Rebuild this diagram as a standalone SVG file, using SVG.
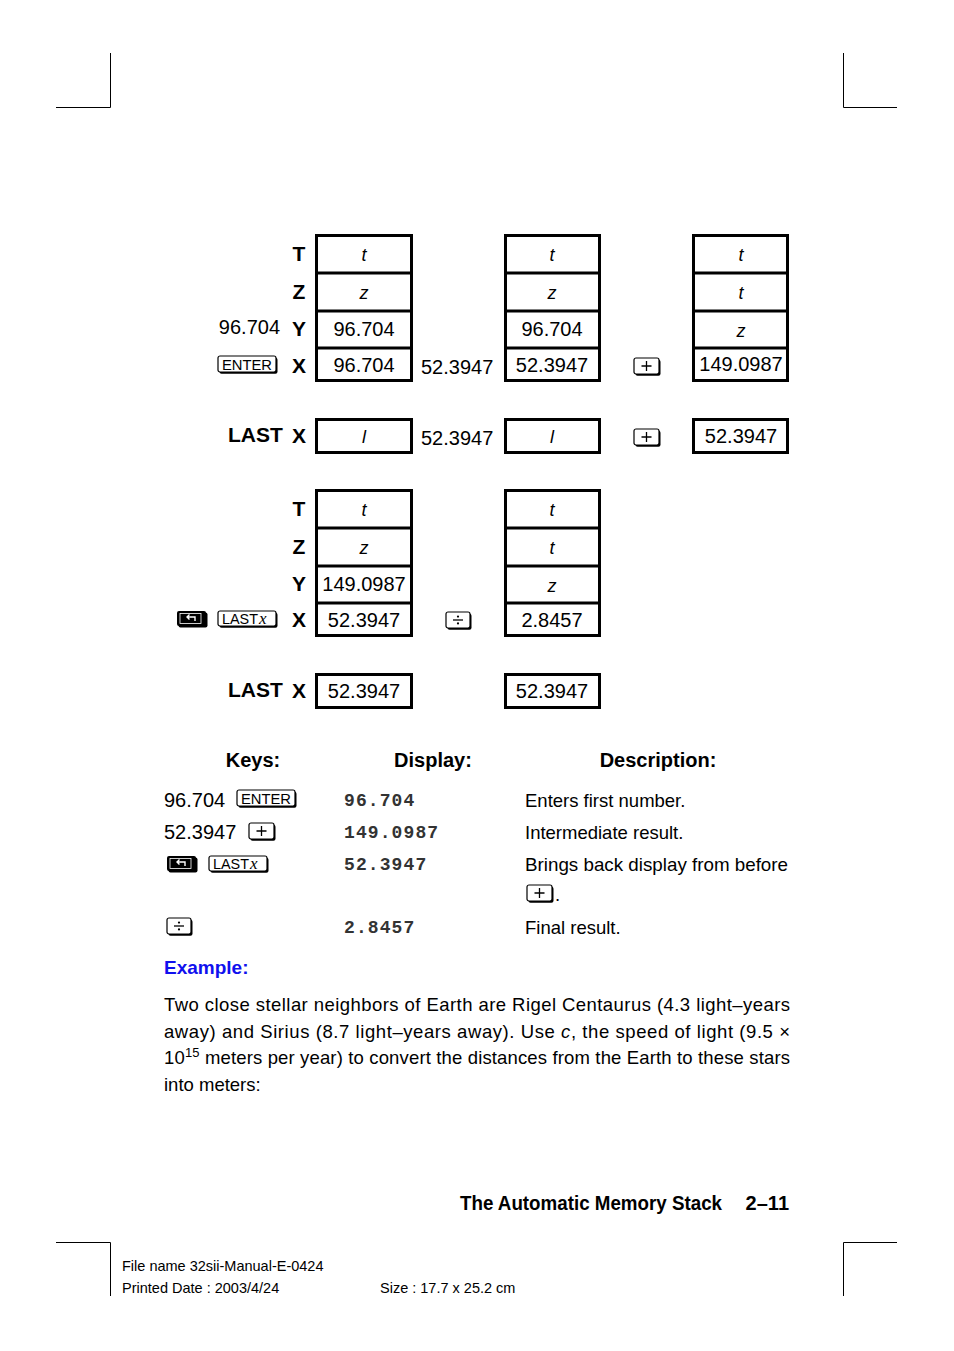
<svg xmlns="http://www.w3.org/2000/svg" width="954" height="1351" viewBox="0 0 954 1351">
<style>
.crop{stroke:#000;stroke-width:1;fill:none}
.box{fill:#fff;stroke:#000;stroke-width:3}
.div{stroke:#000;stroke-width:3}
.t{font-family:"Liberation Sans",Arial,sans-serif;font-size:20px;fill:#000}
.it{font-family:"Liberation Sans",Arial,sans-serif;font-size:18px;font-style:italic;fill:#000}
.lbl{font-family:"Liberation Sans",Arial,sans-serif;font-size:21px;font-weight:bold;fill:#000}
.hd{font-family:"Liberation Sans",Arial,sans-serif;font-size:20px;font-weight:bold;fill:#000}
.lcd{font-family:"Liberation Mono","DejaVu Sans Mono",monospace;font-size:18px;font-weight:bold;fill:#333;letter-spacing:1.1px}
.body{font-family:"Liberation Sans",Arial,sans-serif;font-size:18.5px;fill:#000}
.key{fill:#fff;stroke:#000;stroke-width:1.2}
.ksh{fill:#000}
.kt{font-family:"Liberation Sans",Arial,sans-serif;font-size:15px;fill:#000}
.small{font-family:"Liberation Sans",Arial,sans-serif;font-size:14.5px;fill:#000}
</style>
<defs>
<g id="plus"><rect class="ksh" x="1.5" y="1.8" width="25" height="16" rx="2"/><rect class="key" x="0" y="0" width="25" height="16" rx="2"/><path d="M12.5 3v10M7.5 8h10" stroke="#000" stroke-width="1.3"/></g>
<g id="divk"><rect class="ksh" x="1.5" y="1.8" width="24" height="16" rx="2"/><rect class="key" x="0" y="0" width="24" height="16" rx="2"/><path d="M7 8h10" stroke="#000" stroke-width="1.3"/><circle cx="12" cy="4.6" r="1.1" fill="#000"/><circle cx="12" cy="11.4" r="1.1" fill="#000"/></g>
<g id="shift"><rect class="ksh" x="1.5" y="1.5" width="29" height="15" rx="2"/><rect x="0" y="0" width="29" height="15" rx="2" fill="#000"/><rect x="3" y="2.5" width="21" height="10" fill="#000" stroke="#fff" stroke-width="0.8"/><path d="M18 10V6H10M12.5 3.5L10 6l2.5 2.5" stroke="#fff" stroke-width="1.4" fill="none"/></g>
<g id="enter"><rect class="ksh" x="1.5" y="1.8" width="58" height="16" rx="2"/><rect class="key" x="0" y="0" width="58" height="16" rx="2"/><text class="kt" x="29" y="13.5" text-anchor="middle" textLength="50" lengthAdjust="spacingAndGlyphs">ENTER</text></g>
<g id="lastx"><rect class="ksh" x="1.5" y="1.8" width="58" height="15" rx="2"/><rect class="key" x="0" y="0" width="58" height="15" rx="2"/><text class="kt" x="4" y="12.5" textLength="36" lengthAdjust="spacingAndGlyphs">LAST</text><text x="41" y="12.5" font-family="Liberation Serif,serif" font-style="italic" font-size="17px">x</text></g>
</defs>

<g id="cropmarks">
<path class="crop" d="M110.5 53V107.5H56M843.5 53V107.5H897M56 1242.5H110.5V1296M897 1242.5H843.5V1296"/>
</g>

<g id="labels1">
<text class="lbl" x="299" y="261" text-anchor="middle">T</text>
<text class="lbl" x="299" y="299" text-anchor="middle">Z</text>
<text class="lbl" x="299" y="336" text-anchor="middle">Y</text>
<text class="lbl" x="299" y="373" text-anchor="middle">X</text>
<text class="t" x="280" y="334" text-anchor="end">96.704</text>
<use href="#enter" x="218" y="356"/>
</g>

<g id="stackA1">
<rect class="box" x="316.5" y="235.5" width="95" height="145"/>
<path class="div" d="M316.5 273H411.5M316.5 311H411.5M316.5 348H411.5"/>
<text class="it" x="364" y="261" text-anchor="middle">t</text>
<text class="it" x="364" y="299" text-anchor="middle">z</text>
<text class="t" x="364" y="336" text-anchor="middle">96.704</text>
<text class="t" x="364" y="372" text-anchor="middle">96.704</text>
</g>
<text class="t" x="421" y="374" id="in1">52.3947</text>
<g id="stackB1">
<rect class="box" x="505.5" y="235.5" width="94" height="145"/>
<path class="div" d="M505.5 273H599.5M505.5 311H599.5M505.5 348H599.5"/>
<text class="it" x="552" y="261" text-anchor="middle">t</text>
<text class="it" x="552" y="299" text-anchor="middle">z</text>
<text class="t" x="552" y="336" text-anchor="middle">96.704</text>
<text class="t" x="552" y="372" text-anchor="middle">52.3947</text>
</g>
<use href="#plus" x="634" y="358"/>
<g id="stackC1">
<rect class="box" x="693.5" y="235.5" width="94" height="145"/>
<path class="div" d="M693.5 273H787.5M693.5 311H787.5M693.5 348H787.5"/>
<text class="it" x="741" y="261" text-anchor="middle">t</text>
<text class="it" x="741" y="299" text-anchor="middle">t</text>
<text class="it" x="741" y="337" text-anchor="middle">z</text>
<text class="t" x="741" y="371" text-anchor="middle" font-size="17.5">149.0987</text>
</g>

<g id="lastx1">
<text class="lbl" x="228" y="442">LAST</text>
<text class="lbl" x="299" y="443" text-anchor="middle">X</text>
<rect class="box" x="316.5" y="419.5" width="95" height="33"/>
<text class="it" x="364" y="443" text-anchor="middle">l</text>
<text class="t" x="421" y="445">52.3947</text>
<rect class="box" x="505.5" y="419.5" width="94" height="33"/>
<text class="it" x="552" y="443" text-anchor="middle">l</text>
<use href="#plus" x="634" y="429"/>
<rect class="box" x="693.5" y="419.5" width="94" height="33"/>
<text class="t" x="741" y="443" text-anchor="middle">52.3947</text>
</g>

<g id="labels2">
<text class="lbl" x="299" y="516" text-anchor="middle">T</text>
<text class="lbl" x="299" y="554" text-anchor="middle">Z</text>
<text class="lbl" x="299" y="591" text-anchor="middle">Y</text>
<text class="lbl" x="299" y="627" text-anchor="middle">X</text>
<use href="#shift" x="177" y="611"/>
<use href="#lastx" x="218" y="611"/>
</g>
<g id="stackA2">
<rect class="box" x="316.5" y="490.5" width="95" height="145"/>
<path class="div" d="M316.5 528H411.5M316.5 566H411.5M316.5 603H411.5"/>
<text class="it" x="364" y="516" text-anchor="middle">t</text>
<text class="it" x="364" y="554" text-anchor="middle">z</text>
<text class="t" x="364" y="591" text-anchor="middle">149.0987</text>
<text class="t" x="364" y="627" text-anchor="middle">52.3947</text>
</g>
<use href="#divk" x="446" y="612"/>
<g id="stackB2">
<rect class="box" x="505.5" y="490.5" width="94" height="145"/>
<path class="div" d="M505.5 528H599.5M505.5 566H599.5M505.5 603H599.5"/>
<text class="it" x="552" y="516" text-anchor="middle">t</text>
<text class="it" x="552" y="554" text-anchor="middle">t</text>
<text class="it" x="552" y="592" text-anchor="middle">z</text>
<text class="t" x="552" y="627" text-anchor="middle">2.8457</text>
</g>

<g id="lastx2">
<text class="lbl" x="228" y="697">LAST</text>
<text class="lbl" x="299" y="698" text-anchor="middle">X</text>
<rect class="box" x="316.5" y="674.5" width="95" height="33"/>
<text class="t" x="364" y="698" text-anchor="middle">52.3947</text>
<rect class="box" x="505.5" y="674.5" width="94" height="33"/>
<text class="t" x="552" y="698" text-anchor="middle">52.3947</text>
</g>

<g id="table">
<text class="hd" x="253" y="767" text-anchor="middle">Keys:</text>
<text class="hd" x="433" y="767" text-anchor="middle">Display:</text>
<text class="hd" x="658" y="767" text-anchor="middle">Description:</text>
<text class="t" x="164" y="807">96.704</text>
<use href="#enter" x="237" y="790"/>
<text class="t" x="164" y="839">52.3947</text>
<use href="#plus" x="249" y="823"/>
<use href="#shift" x="167" y="856"/>
<use href="#lastx" x="209" y="856"/>
<use href="#divk" x="167" y="918"/>
<text class="lcd" x="344" y="806">96.704</text>
<text class="lcd" x="344" y="838">149.0987</text>
<text class="lcd" x="344" y="870">52.3947</text>
<text class="lcd" x="344" y="933">2.8457</text>
<text class="body" x="525" y="807">Enters first number.</text>
<text class="body" x="525" y="839">Intermediate result.</text>
<text class="body" x="525" y="871" textLength="263" lengthAdjust="spacingAndGlyphs">Brings back display from before</text>
<use href="#plus" x="527" y="885"/>
<text class="body" x="555" y="901">.</text>
<text class="body" x="525" y="934">Final result.</text>
</g>

<g id="example">
<text x="164" y="974" font-family="Liberation Sans,Arial,sans-serif" font-size="19px" font-weight="bold" fill="#1010ee">Example:</text>
<text class="body" x="164" y="1011" textLength="626" lengthAdjust="spacing">Two close stellar neighbors of Earth are Rigel Centaurus (4.3 light–years</text>
<text class="body" x="164" y="1038" textLength="626" lengthAdjust="spacing">away) and Sirius (8.7 light–years away). Use <tspan font-style="italic">c</tspan>, the speed of light (9.5 ×</text>
<text class="body" x="164" y="1064" textLength="626" lengthAdjust="spacing">10<tspan font-size="13px" dy="-7">15</tspan><tspan dy="7"> meters per year) to convert the distances from the Earth to these stars</tspan></text>
<text class="body" x="164" y="1091">into meters:</text>
</g>

<g id="footer">
<text x="722" y="1210" text-anchor="end" font-family="Liberation Sans,Arial,sans-serif" font-size="20px" font-weight="bold" fill="#000" textLength="262" lengthAdjust="spacingAndGlyphs">The Automatic Memory Stack</text>
<text x="789" y="1210" text-anchor="end" font-family="Liberation Sans,Arial,sans-serif" font-size="20px" font-weight="bold" fill="#000">2–11</text>
<text class="small" x="122" y="1271">File name 32sii-Manual-E-0424</text>
<text class="small" x="122" y="1293">Printed Date : 2003/4/24</text>
<text class="small" x="380" y="1293">Size : 17.7 x 25.2 cm</text>
</g>
</svg>
